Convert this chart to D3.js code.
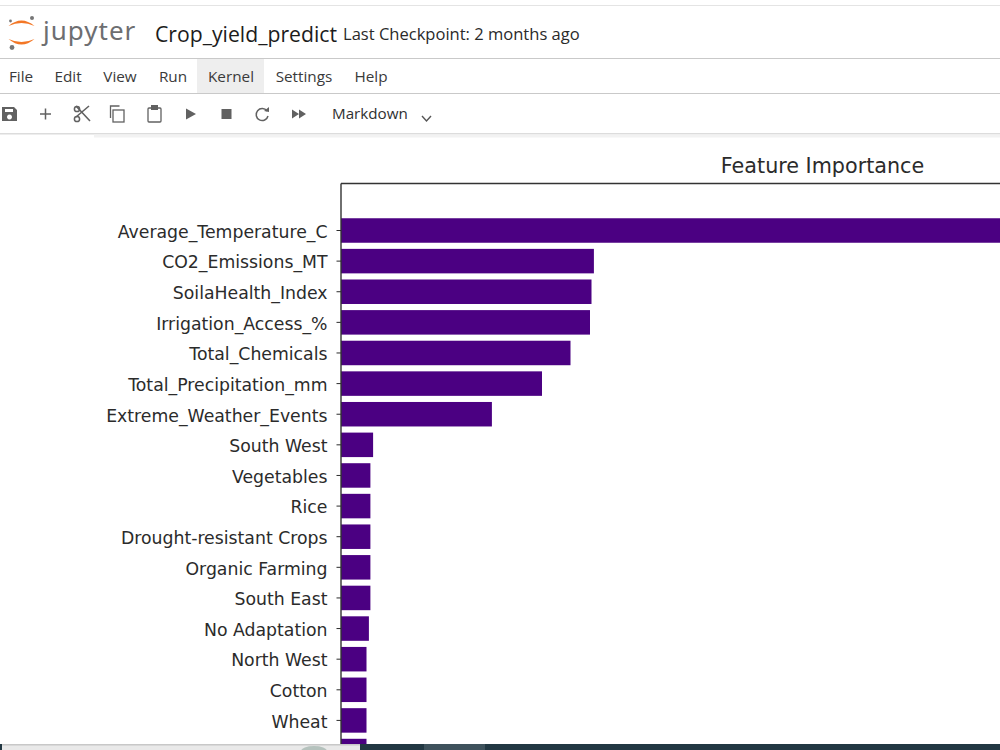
<!DOCTYPE html>
<html>
<head>
<meta charset="utf-8">
<script src="https://cdn.jsdelivr.net/npm/d3@7"></script>
<style>
  html, body { margin: 0; padding: 0; background: #fff; overflow: hidden; }
  svg { display: block; }
</style>
</head>
<body>
<svg id="page" width="1000" height="750"></svg>
<script>
// Feature importance values for the crop yield model; the final bar runs under the task bar, unlabelled
const features = [
  "Average_Temperature_C", "CO2_Emissions_MT", "SoilaHealth_Index", "Irrigation_Access_%",
  "Total_Chemicals", "Total_Precipitation_mm", "Extreme_Weather_Events", "South West",
  "Vegetables", "Rice", "Drought-resistant Crops", "Organic Farming", "South East",
  "No Adaptation", "North West", "Cotton", "Wheat", ""
];
const importance = [
  0.2300, 0.0843, 0.0835, 0.0830, 0.0765, 0.0670, 0.0503, 0.0107,
  0.0098, 0.0098, 0.0098, 0.0098, 0.0098, 0.0093, 0.0085, 0.0085, 0.0085, 0.0085
];
const menuItems = ["File", "Edit", "View", "Run", "Kernel", "Settings", "Help"];
const menuCentres = [21, 68, 120, 173, 231, 304, 371];

const UI_FONT = "'Open Sans', 'Noto Sans', sans-serif";
const PLOT_FONT = "'DejaVu Sans', sans-serif";
const INK = "#2b2b2b";

const svg = d3.select("#page");

// Notebook chrome: header, menu bar and toolbar
const chrome = svg.append("g");
const rule = (y, x0 = 0, x1 = 1000, c = "#c9c9c9") =>
  chrome.append("line").attr("x1", x0).attr("x2", x1).attr("y1", y).attr("y2", y).attr("stroke", c);
rule(5.5, 0, 1000, "#e4e4e4");
rule(58.5);
rule(93.5);
chrome.append("rect").attr("x", 0).attr("y", 133).attr("width", 1000).attr("height", 1.5).attr("fill", "#dcdcdc");
chrome.append("rect").attr("x", 94).attr("y", 134.5).attr("width", 906).attr("height", 3).attr("fill", "#f2f2f2");

// Jupyter logo
const logo = chrome.append("g").attr("transform", "translate(21.5,32)");
logo.append("path").attr("d", "M-13,-6 Q0,-17 13,-6 Q0,-12 -13,-6 Z").attr("fill", "#f37726");
logo.append("path").attr("d", "M-13,7 Q0,18 13,7 Q0,13 -13,7 Z").attr("fill", "#f37726");
logo.append("circle").attr("cx", 10.5).attr("cy", -14).attr("r", 2).attr("fill", "#767677");
logo.append("circle").attr("cx", -11).attr("cy", -11).attr("r", 1.4).attr("fill", "#767677");
logo.append("circle").attr("cx", -9.5).attr("cy", 15.5).attr("r", 2.4).attr("fill", "#767677");

chrome.append("text").attr("x", 43).attr("y", 40).attr("font-family", "'Noto Sans', sans-serif")
  .attr("font-size", 26).attr("letter-spacing", 1).attr("fill", "#6d6e71").text("jupyter");
chrome.append("text").attr("x", 155).attr("y", 42).attr("font-family", UI_FONT)
  .attr("font-size", 21.2).attr("fill", "#1c1c1c").text("Crop_yield_predict");
chrome.append("text").attr("x", 343).attr("y", 40).attr("font-family", UI_FONT)
  .attr("font-size", 16.55).attr("fill", "#2a2a2a").text("Last Checkpoint: 2 months ago");

chrome.append("rect").attr("x", 197).attr("y", 59).attr("width", 67).attr("height", 34).attr("fill", "#eeeeee");
chrome.selectAll("text.menu").data(menuItems).join("text").attr("class", "menu")
  .attr("x", (d, i) => menuCentres[i]).attr("y", 82).attr("text-anchor", "middle")
  .attr("font-family", UI_FONT).attr("font-size", 15.3).attr("fill", "#3a3a3a").text(d => d);

// Toolbar icons
const icons = chrome.append("g").attr("fill", "#616161").attr("stroke", "#616161");
icons.append("path").attr("stroke", "none").attr("fill-rule", "evenodd")
  .attr("d", "M2,107 h12 l3,3 v11 h-15 Z M5,109 v3 h8 v-3 Z M9.5,114.5 a2.5,2.5 0 1,0 0.01,0 Z");
icons.append("path").attr("fill", "none").attr("stroke-width", 1.5).attr("d", "M40,114 h11 M45.5,108.5 v11");
icons.append("path").attr("fill", "none").attr("stroke-width", 1.6)
  .attr("d", "M76,106 L90,121 M89,106 L76,117");
icons.append("circle").attr("cx", 77).attr("cy", 109).attr("r", 2.6).attr("fill", "none").attr("stroke-width", 1.5);
icons.append("circle").attr("cx", 77).attr("cy", 119).attr("r", 2.6).attr("fill", "none").attr("stroke-width", 1.5);
icons.append("rect").attr("x", 113).attr("y", 110).attr("width", 11).attr("height", 12).attr("fill", "none").attr("stroke-width", 1.3);
icons.append("path").attr("fill", "none").attr("stroke-width", 1.3).attr("d", "M110.5,118 v-12 h9");
icons.append("rect").attr("x", 148).attr("y", 108).attr("width", 13).attr("height", 14).attr("rx", 1).attr("fill", "none").attr("stroke-width", 1.3);
icons.append("rect").attr("x", 151.5).attr("y", 105.5).attr("width", 6).attr("height", 4).attr("stroke-width", 1);
icons.append("path").attr("stroke", "none").attr("d", "M186,108.5 L196,114 L186,119.5 Z");
icons.append("rect").attr("stroke", "none").attr("x", 221.5).attr("y", 109).attr("width", 10).attr("height", 10);
icons.append("path").attr("fill", "none").attr("stroke-width", 1.5).attr("d", "M267,111 A6,6 0 1,0 268,116");
icons.append("path").attr("stroke", "none").attr("d", "M264,111 L269,112 L269,107 Z");
icons.append("path").attr("stroke", "none").attr("d", "M292,109.5 L299,114 L292,118.5 Z M299,109.5 L306,114 L299,118.5 Z");
chrome.append("text").attr("x", 332).attr("y", 119).attr("font-family", UI_FONT)
  .attr("font-size", 15.2).attr("fill", "#303030").text("Markdown");
chrome.append("path").attr("d", "M422,116 L426.5,121 L431,116").attr("fill", "none").attr("stroke", "#555").attr("stroke-width", 1.4);

// Bar chart, laid out with the same band step as the axis ticks
const plotLeft = 341, plotTop = 183.5, step = 30.62, firstCentre = 230.5;
const y = d3.scaleBand()
  .domain(features)
  .range([firstCentre - step / 2, firstCentre - step / 2 + step * features.length])
  .paddingInner(0.2).paddingOuter(0.1);
const x = d3.scaleLinear().domain([0, 0.1]).range([plotLeft, plotLeft + 300]);

const plot = svg.append("g");
plot.selectAll("rect.bar").data(features).join("rect").attr("class", "bar")
  .attr("x", x(0))
  .attr("y", d => y(d))
  .attr("width", (d, i) => x(importance[i]) - x(0))
  .attr("height", y.bandwidth())
  .attr("fill", "#4b0082");

const yAxis = d3.axisLeft(y).tickSize(4.5).tickPadding(9);
const axisG = plot.append("g").attr("transform", `translate(${plotLeft},0)`).call(yAxis);
axisG.select(".domain").remove();
axisG.selectAll("line").attr("stroke", INK).attr("stroke-width", 1);
axisG.selectAll("text").attr("font-family", PLOT_FONT).attr("font-size", 17.3)
  .attr("fill", INK).attr("dy", "0.42em");

plot.append("line").attr("x1", plotLeft).attr("x2", plotLeft).attr("y1", plotTop).attr("y2", 750)
  .attr("stroke", "#333").attr("stroke-width", 1.4);
plot.append("line").attr("x1", plotLeft).attr("x2", 1000).attr("y1", plotTop).attr("y2", plotTop)
  .attr("stroke", "#333").attr("stroke-width", 1.4);
plot.append("text").attr("x", 822.5).attr("y", 173).attr("text-anchor", "middle")
  .attr("font-family", PLOT_FONT).attr("font-size", 20.7).attr("fill", INK).text("Feature Importance");

// Desktop task bar along the bottom edge
const bar = svg.append("g");
bar.append("rect").attr("x", 0).attr("y", 744).attr("width", 1000).attr("height", 6).attr("fill", "#223843");
bar.append("rect").attr("x", 2).attr("y", 744).attr("width", 358).attr("height", 6).attr("fill", "#e9e9e9");
bar.append("rect").attr("x", 2).attr("y", 744).attr("width", 358).attr("height", 1.5).attr("fill", "#c8c8c8");
bar.append("ellipse").attr("cx", 314).attr("cy", 751).attr("rx", 13).attr("ry", 5).attr("fill", "#b5c2bd");
bar.append("rect").attr("x", 424).attr("y", 744).attr("width", 61).attr("height", 6).attr("fill", "#3e525c");
</script>
</body>
</html>
